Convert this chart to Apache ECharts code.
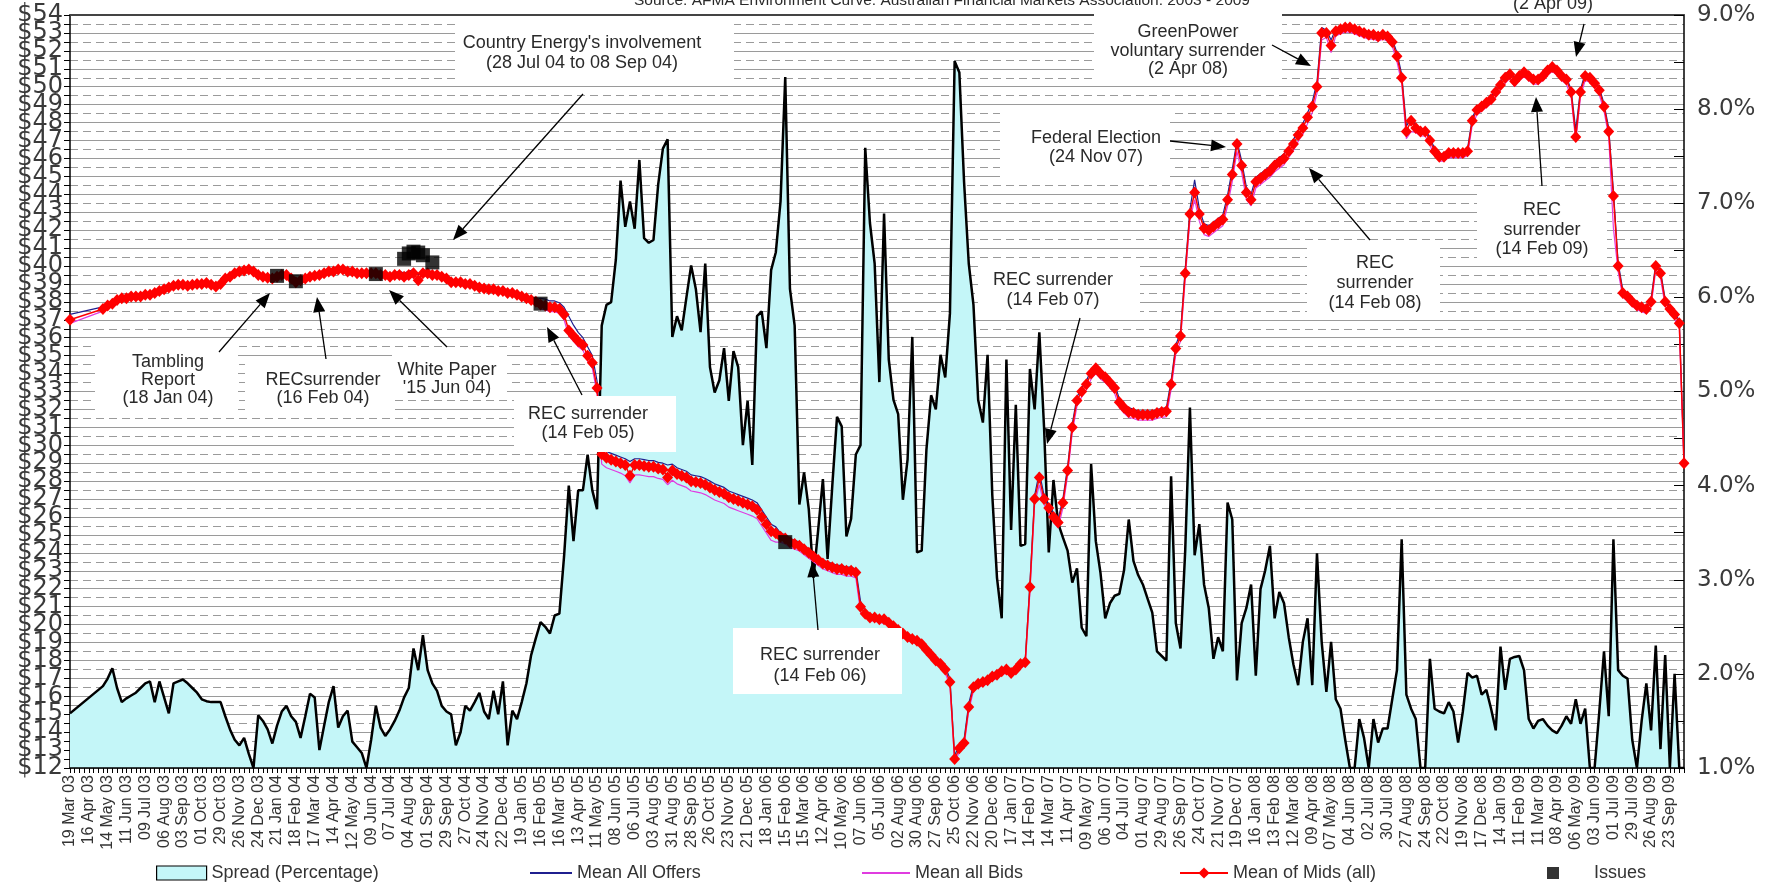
<!DOCTYPE html>
<html><head><meta charset="utf-8">
<script src="https://cdn.jsdelivr.net/npm/echarts@6/dist/echarts.min.js"></script>
<style>html,body{margin:0;padding:0;background:#fff}#c{width:1775px;height:882px}</style>
</head><body><div id="c"></div>
<script>
const tickLabels = ["19 Mar 03","16 Apr 03","14 May 03","11 Jun 03","09 Jul 03","06 Aug 03","03 Sep 03","01 Oct 03","29 Oct 03","26 Nov 03","24 Dec 03","21 Jan 04","18 Feb 04","17 Mar 04","14 Apr 04","12 May 04","09 Jun 04","07 Jul 04","04 Aug 04","01 Sep 04","29 Sep 04","27 Oct 04","24 Nov 04","22 Dec 04","19 Jan 05","16 Feb 05","16 Mar 05","13 Apr 05","11 May 05","08 Jun 05","06 Jul 05","03 Aug 05","31 Aug 05","28 Sep 05","26 Oct 05","23 Nov 05","21 Dec 05","18 Jan 06","15 Feb 06","15 Mar 06","12 Apr 06","10 May 06","07 Jun 06","05 Jul 06","02 Aug 06","30 Aug 06","27 Sep 06","25 Oct 06","22 Nov 06","20 Dec 06","17 Jan 07","14 Feb 07","14 Mar 07","11 Apr 07","09 May 07","06 Jun 07","04 Jul 07","01 Aug 07","29 Aug 07","26 Sep 07","24 Oct 07","21 Nov 07","19 Dec 07","16 Jan 08","13 Feb 08","12 Mar 08","09 Apr 08","07 May 08","04 Jun 08","02 Jul 08","30 Jul 08","27 Aug 08","24 Sep 08","22 Oct 08","19 Nov 08","17 Dec 08","14 Jan 09","11 Feb 09","11 Mar 09","08 Apr 09","06 May 09","03 Jun 09","01 Jul 09","29 Jul 09","26 Aug 09","23 Sep 09"];

// Left axis tick values ($)
const dollarTicks = [12,13,14,15,16,17,18,19,20,21,22,23,24,25,26,27,28,29,30,31,32,33,34,35,36,37,38,39,40,41,42,43,44,45,46,47,48,49,50,51,52,53,54];

// Spread (Percentage), right axis, one value per week
const spread = [
1.58,null,null,null,null,null,null,1.87,1.95,2.06,
1.85,1.70,1.74,1.77,1.80,1.85,1.90,1.92,1.70,1.92,
1.75,1.58,1.90,1.92,1.94,1.90,1.85,1.80,1.73,1.71,
1.70,1.70,1.70,1.55,1.41,1.30,1.24,1.32,1.15,1.00,
1.56,1.50,1.41,1.26,1.45,1.60,1.66,1.55,1.49,1.32,
1.55,1.79,1.75,1.19,1.45,1.70,1.87,1.43,1.55,1.61,
1.28,1.22,1.16,1.00,1.30,1.66,1.43,1.34,1.41,1.50,
1.61,1.75,1.85,2.27,2.04,2.41,2.04,1.90,1.82,1.66,
1.60,1.57,1.24,1.38,1.66,1.61,1.70,1.80,1.60,1.52,
1.82,1.57,1.92,1.24,1.61,1.52,1.70,1.90,2.20,2.38,
2.55,2.50,2.43,2.62,2.64,3.25,4.00,3.41,3.95,3.95,
4.33,3.95,3.75,5.70,5.92,5.95,6.40,7.24,6.75,7.02,
6.73,7.46,6.63,6.58,6.61,7.20,7.58,7.68,5.58,5.80,
5.65,6.00,6.34,6.09,5.63,6.36,5.26,4.99,5.12,5.46,
4.90,5.43,5.26,4.43,4.90,4.22,5.80,5.85,5.46,6.29,
6.48,7.02,8.34,6.09,5.70,3.80,4.14,3.75,3.02,3.53,
4.07,3.22,4.00,4.73,4.63,3.46,3.65,4.33,4.43,7.59,
6.79,6.36,5.10,6.89,5.34,4.91,4.76,3.85,4.28,5.58,
3.29,3.31,4.38,4.96,4.81,5.39,5.15,5.83,8.51,8.39,
7.23,6.36,5.92,4.91,4.67,5.39,3.90,3.02,2.59,5.34,
3.53,4.86,3.36,3.38,5.24,4.81,5.63,4.62,3.29,4.06,
3.60,3.45,3.31,2.97,3.12,2.49,2.40,4.23,3.41,3.07,
2.59,2.75,2.83,2.85,3.10,3.64,3.20,3.05,2.95,2.80,
2.65,2.24,2.19,2.14,4.10,2.54,2.27,3.31,4.83,3.26,
3.59,2.95,2.70,2.16,2.39,2.24,3.82,3.64,1.93,2.54,
2.70,2.95,1.98,2.90,3.10,3.36,2.59,2.87,2.75,2.39,
2.10,1.88,2.34,2.59,1.88,3.28,2.34,1.81,2.34,1.73,
1.63,1.30,1.00,1.00,1.52,1.32,1.00,1.52,1.27,1.42,
1.42,1.73,2.04,3.43,1.78,1.63,1.52,1.00,1.00,2.16,
1.63,1.60,1.58,1.70,1.60,1.27,1.60,2.01,1.96,1.98,
1.78,1.83,1.63,1.40,2.29,1.83,2.16,2.18,2.19,2.04,
1.52,1.42,1.50,1.52,1.45,1.40,1.37,1.45,1.55,1.47,
1.73,1.47,1.63,1.00,1.00,1.60,2.24,1.55,3.43,2.04,
1.98,1.95,1.30,1.00,1.50,1.90,1.40,2.30,1.20,2.20,
1.00,2.00,1.00,1.00];

// Mean All Offers ($)
const offers = [
37.3,null,null,null,null,null,null,37.72,37.92,38.02,
38.22,38.32,38.32,38.42,38.42,38.42,38.52,38.52,38.62,38.72,
38.82,38.92,39.02,39.07,39.07,39.02,39.07,39.12,39.12,39.17,
39.07,38.97,39.12,39.42,39.52,39.72,39.82,39.87,39.92,39.82,
39.62,39.52,39.47,39.42,39.52,39.62,39.62,39.42,39.22,39.32,
39.42,39.52,39.57,39.62,39.72,39.82,39.82,39.92,39.92,39.82,
39.82,39.72,39.72,39.72,39.72,39.72,39.62,39.62,39.52,39.62,
39.7,39.6,39.7,39.8,39.5,39.8,39.72,39.62,39.62,39.52,
39.42,39.22,39.22,39.22,39.12,39.12,39.02,38.92,38.87,38.82,
38.82,38.72,38.72,38.62,38.62,38.52,38.42,38.32,38.22,38.12,
38.2,38.15,38.05,38.05,37.95,37.7,37.2,36.7,36.3,36.0,
35.5,35.0,33.6,29.85,29.65,29.55,29.45,29.35,29.25,29.1,
29.25,29.25,29.2,29.15,29.15,29.05,29.0,28.9,28.95,28.75,
28.65,28.55,28.35,28.3,28.25,28.15,28.0,27.85,27.75,27.65,
27.45,27.35,27.25,27.15,27.05,26.95,26.8,26.4,26.0,25.6,
25.45,25.1,25.0,24.8,24.7,24.6,24.4,24.2,24.0,23.8,
23.6,23.5,23.4,23.3,23.3,23.2,23.2,23.1,21.3,20.75,
20.55,20.55,20.45,20.45,20.25,20.05,19.85,19.65,19.45,19.35,
19.25,19.05,18.75,18.45,18.15,17.95,17.65,17.0,12.7,13.3,
13.6,15.6,16.65,16.85,16.95,17.05,17.25,17.35,17.55,17.65,
17.45,17.65,17.95,18.05,22.3,27.2,28.5,27.2,26.7,26.2,
25.9,27.0,28.8,31.2,32.7,33.2,33.6,34.2,34.5,34.2,
34.0,33.7,33.4,32.6,32.3,32.1,32.0,31.9,31.9,31.9,
31.9,32.0,32.05,32.1,33.6,35.6,36.3,39.85,43.15,44.8,
43.2,42.35,42.25,42.45,42.65,42.85,43.95,45.4,47.0,45.85,
44.4,44.0,44.95,45.15,45.35,45.55,45.85,46.05,46.25,46.65,
47.05,47.55,47.95,48.55,49.15,50.25,53.3,53.15,52.6,53.25,
53.35,53.45,53.45,53.35,53.25,53.15,53.05,53.05,52.95,53.05,
52.95,52.65,51.9,50.7,47.8,48.25,47.85,47.65,47.65,47.15,
46.55,46.25,46.25,46.45,46.45,46.45,46.45,46.55,48.25,48.85,
49.05,49.25,49.45,49.85,50.25,50.75,50.85,50.45,50.75,50.95,
50.75,50.55,50.55,50.75,51.05,51.25,51.05,50.75,50.55,49.85,
47.6,49.85,50.75,50.65,50.35,49.95,49.05,47.7,44.2,40.2,
38.65,38.45,38.15,37.95,37.85,37.75,38.15,40.15,39.75,38.15,
37.75,37.45,36.95,29.15];

// Mean all Bids ($)
const bids = [
36.8,null,null,null,null,null,null,37.48,37.68,37.78,
37.98,38.08,38.08,38.18,38.18,38.18,38.28,38.28,38.38,38.48,
38.58,38.68,38.78,38.83,38.83,38.78,38.83,38.88,38.88,38.93,
38.83,38.73,38.88,39.18,39.28,39.48,39.58,39.63,39.68,39.58,
39.38,39.28,39.23,39.18,39.28,39.38,39.38,39.18,38.98,39.08,
39.18,39.28,39.33,39.38,39.48,39.58,39.58,39.68,39.68,39.58,
39.58,39.48,39.48,39.48,39.48,39.48,39.38,39.38,39.28,39.38,
39.3,39.2,39.3,39.4,39.0,39.4,39.48,39.38,39.38,39.28,
39.18,38.98,38.98,38.98,38.88,38.88,38.78,38.68,38.63,38.58,
38.58,38.48,38.48,38.38,38.38,38.28,38.18,38.08,37.98,37.88,
37.6,37.55,37.45,37.45,37.35,37.0,36.1,35.8,35.5,35.3,
34.7,34.3,32.9,28.95,28.75,28.65,28.55,28.45,28.3,27.9,
28.35,28.35,28.3,28.25,28.25,28.15,28.1,27.8,28.05,27.85,
27.75,27.65,27.45,27.4,27.35,27.25,27.1,26.95,26.85,26.75,
26.55,26.45,26.35,26.25,26.15,26.05,25.9,25.5,25.1,24.7,
24.6,24.6,24.5,24.3,24.2,24.1,23.9,23.7,23.5,23.3,
23.1,23.0,22.9,22.8,22.8,22.7,22.7,22.6,20.7,20.4,
20.2,20.2,20.1,20.1,19.9,19.7,19.5,19.3,19.1,19.0,
18.9,18.7,18.4,18.1,17.8,17.6,17.3,16.6,12.3,12.9,
13.2,15.2,16.3,16.5,16.6,16.7,16.9,17.0,17.2,17.3,
17.1,17.3,17.6,17.7,21.8,26.7,27.8,26.7,26.2,25.7,
25.4,26.5,28.3,30.7,32.2,32.7,33.1,33.7,34.0,33.7,
33.5,33.2,32.9,32.1,31.8,31.55,31.5,31.4,31.4,31.4,
31.4,31.5,31.55,31.6,33.1,35.1,35.8,39.25,42.55,43.7,
42.5,41.75,41.65,41.85,42.05,42.25,43.35,44.7,46.4,45.2,
43.7,43.35,44.35,44.55,44.75,44.95,45.25,45.45,45.65,46.05,
46.45,46.95,47.35,47.95,48.55,49.65,52.6,52.75,51.9,52.85,
52.95,53.05,53.05,52.95,52.85,52.75,52.65,52.65,52.55,52.65,
52.55,52.25,51.4,50.2,47.1,47.5,47.45,47.25,47.25,46.75,
46.15,45.85,45.85,46.05,46.05,46.05,46.05,46.15,47.85,48.45,
48.65,48.85,49.05,49.45,49.85,50.2,50.45,50.0,50.35,50.55,
50.35,50.15,50.15,50.35,50.65,50.85,50.65,50.35,50.15,49.45,
46.9,49.45,50.35,50.25,49.95,49.55,48.65,47.2,42.1,39.7,
38.25,38.05,37.75,37.55,37.45,37.35,37.75,39.75,39.35,37.75,
37.35,37.05,36.55,28.8];

// Mean of Mids (all) ($)
const mids = [
37.0,null,null,null,null,null,null,37.6,37.8,37.9,
38.1,38.2,38.2,38.3,38.3,38.3,38.4,38.4,38.5,38.6,
38.7,38.8,38.9,38.95,38.95,38.9,38.95,39.0,39.0,39.05,
38.95,38.85,39.0,39.3,39.4,39.6,39.7,39.75,39.8,39.7,
39.5,39.4,39.35,39.3,39.4,39.5,39.5,39.3,39.1,39.2,
39.3,39.4,39.45,39.5,39.6,39.7,39.7,39.8,39.8,39.7,
39.7,39.6,39.6,39.6,39.6,39.6,39.5,39.5,39.4,39.5,
39.5,39.4,39.5,39.6,39.2,39.6,39.6,39.5,39.5,39.4,
39.3,39.1,39.1,39.1,39.0,39.0,38.9,38.8,38.75,38.7,
38.7,38.6,38.6,38.5,38.5,38.4,38.3,38.2,38.1,38.0,
37.85,37.8,37.7,37.7,37.6,37.3,36.4,36.1,35.8,35.6,
35.0,34.6,33.2,29.5,29.3,29.2,29.1,29.0,28.9,28.3,
28.9,28.9,28.85,28.8,28.8,28.7,28.65,28.2,28.6,28.4,
28.3,28.2,28.0,27.95,27.9,27.8,27.65,27.5,27.4,27.3,
27.1,27.0,26.9,26.8,26.7,26.6,26.4,26.0,25.6,25.2,
25.1,24.9,24.8,24.6,24.5,24.4,24.2,24.0,23.8,23.6,
23.4,23.3,23.2,23.1,23.1,23.0,23.0,22.9,21.0,20.6,
20.4,20.4,20.3,20.3,20.1,19.9,19.7,19.5,19.3,19.2,
19.1,18.9,18.6,18.3,18.0,17.8,17.5,16.8,12.5,13.1,
13.4,15.4,16.5,16.7,16.8,16.9,17.1,17.2,17.4,17.5,
17.3,17.5,17.8,17.9,22.1,27.0,28.2,27.0,26.5,26.0,
25.7,26.8,28.6,31.0,32.5,33.0,33.4,34.0,34.3,34.0,
33.8,33.5,33.2,32.4,32.1,31.85,31.8,31.7,31.7,31.7,
31.7,31.8,31.85,31.9,33.4,35.4,36.1,39.6,42.9,44.1,
42.9,42.1,42.0,42.2,42.4,42.6,43.7,45.1,46.8,45.6,
44.1,43.7,44.7,44.9,45.1,45.3,45.6,45.8,46.0,46.4,
46.8,47.3,47.7,48.3,48.9,50.0,53.0,53.0,52.3,53.1,
53.2,53.3,53.3,53.2,53.1,53.0,52.9,52.9,52.8,52.9,
52.8,52.5,51.7,50.5,47.5,48.1,47.7,47.5,47.5,47.0,
46.4,46.1,46.1,46.3,46.3,46.3,46.3,46.4,48.1,48.7,
48.9,49.1,49.3,49.7,50.1,50.5,50.7,50.3,50.6,50.8,
50.6,50.4,50.4,50.6,50.9,51.1,50.9,50.6,50.4,49.7,
47.2,49.7,50.6,50.5,50.2,49.8,48.9,47.5,43.9,40.0,
38.5,38.3,38.0,37.8,37.7,37.6,38.0,40.0,39.6,38.0,
37.6,37.3,36.8,29.0];

// Issues (week index, $)
const issueWeeks = [44,48,65,71,72,73,74,75,77,100,152];
const issueValues = [39.45,39.15,39.55,40.4,40.7,40.8,40.75,40.6,40.2,37.9,24.6];

const weeks = spread.map((_, i) => String(i));

const FONT = '"Liberation Sans", Arial, sans-serif';
const AXFONT = '"DejaVu Sans", "Liberation Sans", sans-serif';
const TXT = '#2a2a2a';

// Annotations (pixel layout)
const annotations = [
  {box:[455,17,279,67], cx:582, lines:["Country Energy's involvement","(28 Jul 04 to 08 Sep 04)"], ys:[43,63], arrow:[[583,94],[453,240]]},
  {box:[1094,0,188,82], cx:1188, lines:["GreenPower","voluntary surrender","(2 Apr 08)"], ys:[32,51,69], arrow:[[1272,45],[1311,66]]},
  {box:[1458,0,188,14], cx:1553, lines:["(2 Apr 09)"], ys:[4], arrow:[[1584,24],[1576,57]]},
  {box:[1000,110,170,70], cx:1096, lines:["Federal Election","(24 Nov 07)"], ys:[138,157], arrow:[[1170,141],[1226,147]]},
  {box:[978,262,162,52], cx:1053, lines:["REC surrender","(14 Feb 07)"], ys:[280,300], arrow:[[1080,318],[1047,444]]},
  {box:[1307,242,133,72], cx:1375, lines:["REC","surrender","(14 Feb 08)"], ys:[263,283,303], arrow:[[1370,240],[1309,168]]},
  {box:[1477,188,130,78], cx:1542, lines:["REC","surrender","(14 Feb 09)"], ys:[210,230,249], arrow:[[1542,186],[1536,97]]},
  {box:[95,342,143,72], cx:168, lines:["Tambling","Report","(18 Jan 04)"], ys:[362,380,398], arrow:[[219,352],[270,293]]},
  {box:[245,362,150,52], cx:323, lines:["RECsurrender","(16 Feb 04)"], ys:[380,398], arrow:[[326,359],[317,297]]},
  {box:[392,352,115,48], cx:447, lines:["White Paper","'15 Jun 04)"], ys:[370,388], arrow:[[447,347],[389,290]]},
  {box:[514,396,162,56], cx:588, lines:["REC surrender","(14 Feb 05)"], ys:[414,433], arrow:[[582,395],[547,327]]},
  {box:[733,628,169,66], cx:820, lines:["REC surrender","(14 Feb 06)"], ys:[655,676], arrow:[[818,630],[812,562]]}
];

function arrowParts(p, q) {
  const a = Math.atan2(q[1]-p[1], q[0]-p[0]);
  const len = 15, w = 6;
  const bx = q[0]-len*Math.cos(a), by = q[1]-len*Math.sin(a);
  const px = -Math.sin(a)*w, py = Math.cos(a)*w;
  return {
    line: {type:'line', z:101, shape:{x1:p[0], y1:p[1], x2:bx, y2:by}, style:{stroke:'#000', lineWidth:1.3}},
    head: {type:'polygon', z:101, shape:{points:[[q[0],q[1]],[bx+px,by+py],[bx-px,by-py]]}, style:{fill:'#000'}}
  };
}

const graphics = [];
annotations.forEach(a => {
  graphics.push({type:'rect', z:100, shape:{x:a.box[0], y:a.box[1], width:a.box[2], height:a.box[3]}, style:{fill:'#fff'}});
});
annotations.forEach(a => {
  const ar = arrowParts(a.arrow[0], a.arrow[1]);
  graphics.push(ar.line, ar.head);
  a.lines.forEach((t, k) => {
    graphics.push({type:'text', z:102, x:a.cx, y:a.ys[k], style:{text:t, font:'18px ' + FONT, fill:TXT, align:'center', verticalAlign:'middle'}});
  });
});
graphics.push({type:'text', z:102, x:942, y:1, style:{text:'Source: AFMA Environment Curve. Australian Financial Markets Association. 2003 - 2009', font:'15.5px ' + FONT, fill:TXT, align:'center', verticalAlign:'middle'}});

const legendBase = {top:859, itemHeight:14, itemGap:0, selectedMode:false, textStyle:{fontSize:18, color:'#333', fontFamily:FONT}};

const leftLabelStyle = {fontSize:24, color:'#3a3a3a', margin:7, fontFamily:AXFONT, showMinLabel:true, showMaxLabel:true, hideOverlap:false, formatter:v => '$' + v};

const chart = echarts.init(document.getElementById('c'), null, {renderer:'canvas', width:1775, height:882});
chart.setOption({
  animation:false,
  backgroundColor:'#fff',
  textStyle:{fontFamily:FONT},
  grid:{left:70, right:91, top:15, bottom:114, containLabel:false},
  xAxis:[{
    type:'category', data:weeks, boundaryGap:false, z:5,
    axisLine:{lineStyle:{color:'#000', width:1.5}},
    axisTick:{interval:0, length:5, lineStyle:{color:'#000'}},
    axisLabel:{interval:3, rotate:90, fontSize:16, color:'#333', margin:7, fontFamily:FONT,
      formatter:(v, idx) => (idx % 4 === 0 && tickLabels[idx/4]) ? tickLabels[idx/4] : ''},
    splitLine:{show:false}
  },{
    type:'category', data:weeks, boundaryGap:false, position:'top',
    axisLine:{lineStyle:{color:'#444', width:2}}, axisTick:{show:false}, axisLabel:{show:false}, splitLine:{show:false}
  }],
  yAxis:[{
    type:'value', min:12, max:54, interval:1, position:'left',
    axisLine:{show:true, lineStyle:{color:'#000', width:1.5}},
    axisTick:{show:true, length:6, lineStyle:{color:'#000'}},
    minorTick:{show:true, splitNumber:2, length:6, lineStyle:{color:'#000'}},
    axisLabel:Object.assign({}, leftLabelStyle, {customValues:dollarTicks.filter(v => v % 2 === 0)}),
    splitLine:{show:true, lineStyle:{color:'#9a9a9a', width:1.2}},
    minorSplitLine:{show:true, lineStyle:{color:'#9a9a9a', width:1.2, type:[8,5]}}
  },{
    type:'value', min:1, max:9, interval:1, position:'right',
    axisLine:{show:true, lineStyle:{color:'#000', width:1.5}},
    axisTick:{show:true, inside:true, length:10, lineStyle:{color:'#000'}},
    minorTick:{show:true, splitNumber:2, length:10, lineStyle:{color:'#000'}},
    axisLabel:{fontSize:23, color:'#3a3a3a', margin:13, fontFamily:AXFONT, showMinLabel:true, showMaxLabel:true,
      formatter:v => v.toFixed(1) + '%'},
    splitLine:{show:false}
  },{
    type:'value', min:12, max:54, interval:1, position:'left', offset:0,
    axisLine:{show:false}, axisTick:{show:false}, splitLine:{show:false}, minorTick:{show:false}, minorSplitLine:{show:false},
    axisLabel:Object.assign({}, leftLabelStyle, {customValues:dollarTicks.filter(v => v % 2 === 1)})
  }],
  legend:[
    Object.assign({}, legendBase, {left:151, itemWidth:50, data:[{name:'Spread (Percentage)', icon:'rect', itemStyle:{color:'#c4f6f8', borderColor:'#000', borderWidth:1.2}}]}),
    Object.assign({}, legendBase, {left:524, itemWidth:42, data:[{name:'Mean All Offers', itemStyle:{opacity:0}}]}),
    Object.assign({}, legendBase, {left:856, itemWidth:48, data:[{name:'Mean all Bids', itemStyle:{opacity:0}}]}),
    Object.assign({}, legendBase, {left:1174, itemWidth:48, data:['Mean of Mids (all)']}),
    Object.assign({}, legendBase, {left:1542, itemWidth:12, itemHeight:12, data:[{name:'Issues', icon:'rect'}], formatter:n => '      ' + n})
  ],
  series:[
    {name:'Spread (Percentage)', type:'line', yAxisIndex:1, data:spread, connectNulls:true, symbol:'none',
      lineStyle:{color:'#000', width:2.5}, itemStyle:{color:'#c4f6f8'},
      areaStyle:{color:'#c4f6f8', opacity:1, origin:'start'}, z:1},
    {name:'Mean All Offers', type:'line', data:offers, connectNulls:true, symbol:'none',
      lineStyle:{color:'#1f1f8f', width:1.2}, itemStyle:{color:'#1f1f8f'}, z:2},
    {name:'Mean all Bids', type:'line', data:bids, connectNulls:true, symbol:'none',
      lineStyle:{color:'#e03ce0', width:1.2}, itemStyle:{color:'#e03ce0'}, z:2},
    {name:'Mean of Mids (all)', type:'line', data:mids, connectNulls:true, symbol:'diamond', symbolSize:[11,12],
      showSymbol:true, showAllSymbol:true, lineStyle:{color:'#ff0000', width:1.5}, itemStyle:{color:'#ff0000'}, z:3},
    {name:'Issues', type:'scatter', data:issueWeeks.map((w, k) => [w, issueValues[k]]), symbol:'rect', symbolSize:14,
      itemStyle:{color:'#000'}, z:4}
  ],
  graphic:graphics
});
</script>
</body></html>
